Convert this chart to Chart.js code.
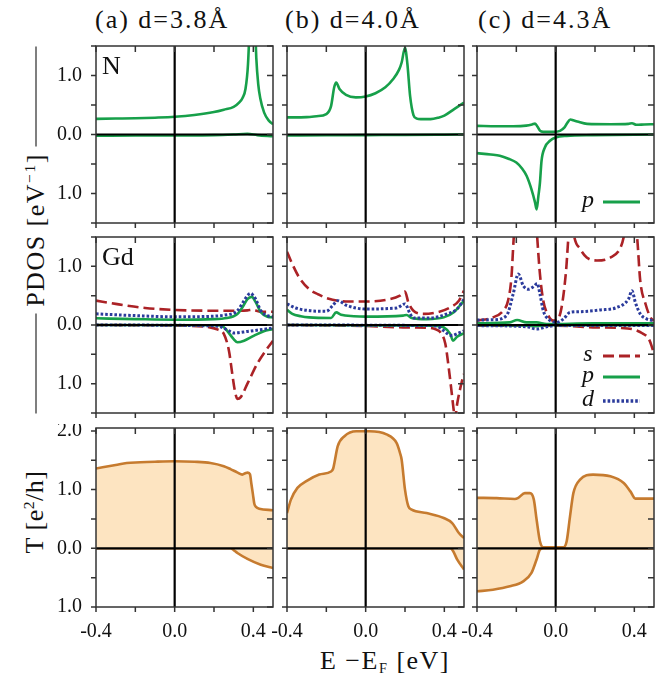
<!DOCTYPE html>
<html>
<head>
<meta charset="utf-8">
<script src="https://cdn.jsdelivr.net/npm/chart.js@4.4.0/dist/chart.umd.min.js"></script>
<style>
  body { margin: 0; background: #fff; }
  #fig { position: relative; width: 663px; height: 681px; font-family: "Liberation Serif", "Times New Roman", "DejaVu Serif", serif; color: #111; overflow: hidden; }
  #fig canvas { position: absolute; }
  .lbl { position: absolute; white-space: nowrap; line-height: 1; }
  .title { top: 7px; font-size: 26px; letter-spacing: 2px; }
  .rot { position: absolute; display: flex; align-items: center; transform: rotate(-90deg); font-size: 26px; line-height: 1; white-space: nowrap; }
  .rot .bar { flex: 1; border-top: 1.5px solid #000; }
  .rot .txt { margin: 0 7px; letter-spacing: 1.5px; }
  sup { font-size: 0.6em; vertical-align: baseline; position: relative; top: -0.55em; }
  sub { font-size: 0.55em; vertical-align: baseline; position: relative; top: 0.25em; }
</style>
</head>
<body>
<div id="fig">
  <div class="lbl title" style="left:95px">(a) d=3.8Å</div>
  <div class="lbl title" style="left:285px">(b) d=4.0Å</div>
  <div class="lbl title" style="left:478px">(c) d=4.3Å</div>
  <div class="rot" style="left:-148px; top:215px; width:367px; height:30px;">
    <div class="bar"></div><div class="txt">PDOS [eV<sup>−1</sup>]</div><div class="bar"></div>
  </div>
  <div class="rot" style="left:-65px; top:497px; width:200px; height:30px; justify-content:center;">
    <div class="txt" style="letter-spacing:0.5px">T [e<sup>2</sup>/h]</div>
  </div>
  <div class="lbl" style="left:385px; top:648px; transform:translateX(-50%); font-size:26px; letter-spacing:1.5px;">E −E<sub>F</sub> [eV]</div>
</div>
<script>
// tick values and labels
const xTicks = [-0.4, -0.2, 0, 0.2, 0.4];
const xTickLabels = ['-0.4', '', '0.0', '', '0.4'];
const pdosTicks = [-1.5, -1, -0.5, 0, 0.5, 1, 1.5];
const pdosTickLabels = ['', '1.0', '', '0.0', '', '1.0', ''];
const tTicks = [-1, -0.5, 0, 0.5, 1, 1.5, 2];
const tTickLabels = ['1.0', '', '0.0', '', '1.0', '', '2.0'];

// N p-orbital PDOS, [E, value] (up > 0, down < 0)
const aN_up = [[-0.4,0.265],[-0.3,0.27],[-0.2,0.275],[-0.1,0.285],[0,0.3],[0.1,0.33],[0.2,0.38],[0.25,0.42],[0.3,0.47],[0.33,0.55],[0.345,0.62],[0.36,0.77],[0.373,1.2],[0.385,2.2],[0.395,3.2],[0.405,2.2],[0.415,1.3],[0.425,0.85],[0.435,0.62],[0.455,0.37],[0.48,0.23],[0.5,0.175]];
const aN_dn = [[-0.4,-0.02],[-0.2,-0.018],[0,-0.015],[0.2,-0.01],[0.3,0.0],[0.37,0.01],[0.42,-0.01],[0.5,-0.03]];
const bN_up = [[-0.4,0.29],[-0.3,0.295],[-0.25,0.31],[-0.2,0.345],[-0.176,0.48],[-0.16,0.8],[-0.15,0.88],[-0.133,0.77],[-0.1,0.67],[-0.05,0.63],[0,0.645],[0.05,0.7],[0.1,0.8],[0.14,0.94],[0.17,1.1],[0.183,1.22],[0.2,1.47],[0.212,1.2],[0.226,0.65],[0.243,0.33],[0.26,0.27],[0.28,0.26],[0.33,0.26],[0.37,0.285],[0.4,0.32],[0.45,0.43],[0.5,0.54]];
const bN_dn = [[-0.4,-0.015],[-0.2,-0.013],[0,-0.01],[0.2,-0.008],[0.4,-0.003],[0.5,0.0]];
const cN_up = [[-0.4,0.147],[-0.3,0.14],[-0.216,0.14],[-0.15,0.15],[-0.12,0.17],[-0.105,0.185],[-0.092,0.13],[-0.08,0.065],[-0.063,0.045],[-0.012,0.045],[0.022,0.062],[0.045,0.12],[0.058,0.19],[0.075,0.255],[0.09,0.24],[0.11,0.22],[0.16,0.18],[0.28,0.175],[0.37,0.18],[0.388,0.19],[0.41,0.165],[0.45,0.17],[0.5,0.175]];
const cN_dn = [[-0.4,-0.316],[-0.33,-0.34],[-0.284,-0.36],[-0.24,-0.41],[-0.2,-0.475],[-0.17,-0.58],[-0.148,-0.7],[-0.123,-0.93],[-0.105,-1.15],[-0.097,-1.27],[-0.088,-1.05],[-0.08,-0.82],[-0.072,-0.45],[-0.055,-0.22],[-0.029,-0.107],[0,-0.05],[0.056,-0.023],[0.19,-0.011],[0.5,0.0]];

// Gd s, p, d PDOS
const aGd_s_up = [[-0.4,0.415],[-0.3,0.36],[-0.244,0.33],[-0.15,0.29],[0,0.256],[0.182,0.244],[0.336,0.244],[0.37,0.25],[0.395,0.26],[0.42,0.24],[0.438,0.227],[0.5,0.227]];
const aGd_s_dn = [[-0.4,0.0],[0,-0.01],[0.18,-0.04],[0.22,-0.08],[0.25,-0.15],[0.276,-0.44],[0.293,-0.835],[0.305,-1.1],[0.319,-1.26],[0.336,-1.23],[0.37,-1.0],[0.42,-0.66],[0.46,-0.45],[0.5,-0.27]];
const aGd_p_up = [[-0.4,0.114],[-0.2,0.1],[0,0.09],[0.2,0.1],[0.267,0.12],[0.3,0.15],[0.32,0.19],[0.344,0.3],[0.37,0.44],[0.392,0.48],[0.412,0.39],[0.438,0.216],[0.472,0.142],[0.5,0.13]];
const aGd_p_dn = [[-0.4,0],[0.2,-0.005],[0.233,-0.01],[0.25,-0.04],[0.267,-0.1],[0.3,-0.24],[0.319,-0.295],[0.353,-0.267],[0.404,-0.18],[0.45,-0.11],[0.5,-0.07]];
const aGd_d_up = [[-0.4,0.19],[-0.2,0.16],[0,0.14],[0.2,0.15],[0.267,0.176],[0.3,0.2],[0.319,0.244],[0.353,0.415],[0.375,0.52],[0.387,0.54],[0.4,0.5],[0.412,0.44],[0.438,0.244],[0.472,0.16],[0.5,0.142]];
const aGd_d_dn = [[-0.4,0],[0.2,-0.015],[0.233,-0.03],[0.276,-0.1],[0.3,-0.136],[0.37,-0.11],[0.5,-0.05]];

const bGd_s_up = [[-0.4,1.25],[-0.38,1.09],[-0.338,0.81],[-0.287,0.61],[-0.24,0.52],[-0.2,0.46],[-0.1,0.4],[0,0.4],[0.106,0.43],[0.174,0.5],[0.2,0.57],[0.217,0.386],[0.243,0.244],[0.294,0.19],[0.362,0.216],[0.43,0.3],[0.474,0.415],[0.5,0.585]];
const bGd_s_dn = [[-0.4,0],[0,-0.017],[0.19,-0.04],[0.33,-0.05],[0.36,-0.08],[0.38,-0.125],[0.405,-0.32],[0.422,-0.72],[0.44,-1.23],[0.448,-1.46],[0.454,-1.6],[0.465,-1.35],[0.49,-0.95],[0.5,-0.835]];
const bGd_p_up = [[-0.4,0.26],[-0.373,0.19],[-0.33,0.15],[-0.287,0.13],[-0.176,0.12],[-0.15,0.216],[-0.125,0.176],[-0.06,0.15],[0,0.142],[0.19,0.16],[0.208,0.17],[0.234,0.12],[0.31,0.1],[0.397,0.13],[0.448,0.216],[0.5,0.415]];
const bGd_p_dn = [[-0.4,0],[0.35,-0.01],[0.397,-0.04],[0.43,-0.15],[0.444,-0.267],[0.465,-0.2],[0.5,-0.14]];
const bGd_d_up = [[-0.4,0.36],[-0.356,0.29],[-0.3,0.25],[-0.2,0.233],[-0.168,0.33],[-0.142,0.415],[-0.1,0.34],[-0.05,0.29],[0,0.273],[0.157,0.29],[0.2,0.36],[0.226,0.19],[0.243,0.12],[0.328,0.12],[0.414,0.19],[0.465,0.273],[0.5,0.44]];
const bGd_d_dn = [[-0.4,0],[0.33,-0.01],[0.362,-0.02],[0.44,-0.18],[0.465,-0.15],[0.5,-0.1]];

const cGd_s_up = [[-0.4,0.074],[-0.319,0.13],[-0.267,0.244],[-0.242,0.415],[-0.225,0.81],[-0.213,1.5],[-0.19,2.4],[-0.15,2.6],[-0.11,2.3],[-0.094,1.5],[-0.08,0.87],[-0.063,0.415],[-0.037,0.16],[-0.012,0.074],[0.005,0.074],[0.03,0.3],[0.053,0.93],[0.065,1.5],[0.08,1.9],[0.095,1.5],[0.124,1.3],[0.158,1.15],[0.21,1.1],[0.278,1.15],[0.33,1.32],[0.346,1.5],[0.38,2.2],[0.414,1.5],[0.43,0.756],[0.457,0.358],[0.482,0.13],[0.5,0.074]];
const cGd_s_dn = [[-0.4,-0.01],[0,-0.01],[0.19,-0.04],[0.33,-0.05],[0.4,-0.08],[0.44,-0.14],[0.474,-0.24],[0.49,-0.38],[0.5,-0.49]];
const cGd_p_up = [[-0.4,0.03],[-0.233,0.045],[-0.196,0.085],[-0.148,0.045],[-0.097,0.045],[-0.046,0.017],[0.19,0.028],[0.5,0.028]];
const cGd_p_dn = [[-0.4,-0.005],[-0.15,-0.01],[-0.1,-0.02],[-0.05,-0.005],[0.5,-0.005]];
const cGd_d_up = [[-0.4,0.085],[-0.319,0.09],[-0.25,0.16],[-0.216,0.53],[-0.19,0.87],[-0.165,0.67],[-0.14,0.61],[-0.11,0.66],[-0.094,0.71],[-0.08,0.53],[-0.063,0.244],[-0.037,0.1],[0.005,0.045],[0.039,0.1],[0.073,0.216],[0.124,0.227],[0.227,0.256],[0.312,0.3],[0.37,0.44],[0.388,0.585],[0.405,0.386],[0.43,0.19],[0.465,0.1],[0.5,0.074]];
const cGd_d_dn = [[-0.4,-0.01],[-0.148,-0.03],[-0.097,-0.07],[-0.046,-0.03],[0,-0.01],[0.5,-0.01]];

// transmission
const aT_up = [[-0.4,1.36],[-0.3,1.42],[-0.244,1.455],[-0.1,1.475],[0,1.483],[0.1,1.475],[0.182,1.455],[0.25,1.4],[0.284,1.35],[0.32,1.29],[0.344,1.256],[0.362,1.284],[0.372,1.29],[0.383,1.26],[0.39,1.1],[0.398,0.92],[0.405,0.76],[0.415,0.7],[0.43,0.676],[0.5,0.648]];
const aT_dn = [[-0.4,0],[0.284,0],[0.3,-0.03],[0.319,-0.08],[0.37,-0.18],[0.438,-0.28],[0.5,-0.335]];
const bT_up = [[-0.4,0.6],[-0.38,0.83],[-0.347,1.03],[-0.304,1.14],[-0.236,1.256],[-0.176,1.31],[-0.165,1.36],[-0.159,1.455],[-0.142,1.74],[-0.108,1.91],[-0.048,1.994],[0.02,1.994],[0.106,1.94],[0.157,1.795],[0.175,1.62],[0.183,1.51],[0.2,1.0],[0.217,0.716],[0.234,0.66],[0.31,0.6],[0.397,0.517],[0.44,0.43],[0.474,0.26],[0.5,0.176]];
const bT_dn = [[-0.4,0],[0.43,0],[0.445,-0.05],[0.465,-0.19],[0.5,-0.36]];
const cT_up = [[-0.4,0.86],[-0.3,0.855],[-0.208,0.84],[-0.19,0.86],[-0.157,0.94],[-0.131,0.94],[-0.111,0.83],[-0.097,0.49],[-0.08,0.12],[-0.063,0.017],[0.039,0.017],[0.056,0.12],[0.073,0.545],[0.09,0.94],[0.124,1.17],[0.19,1.256],[0.278,1.227],[0.346,1.114],[0.38,0.97],[0.405,0.847],[0.5,0.847]];
const cT_dn = [[-0.4,-0.733],[-0.319,-0.705],[-0.233,-0.648],[-0.165,-0.5625],[-0.123,-0.42],[-0.097,-0.19],[-0.08,-0.023],[-0.063,0],[0.5,0]];

// layout
const colX = [96, 287, 477];
const rowY = [46, 237, 428];
const rowH = [177, 176, 179];
const PW = 177;

const styles = {
  s: { borderColor: '#ab2226', borderDash: [11, 5], borderWidth: 2.6, order: 3 },
  p: { borderColor: '#17a04a', borderDash: [], borderWidth: 2.6, order: 2 },
  d: { borderColor: '#2b3b9c', borderDash: [2.6, 2], borderWidth: 3, order: 1 },
  T: { borderColor: '#c67b2f', borderWidth: 2.6, fill: 'origin', backgroundColor: '#fde4c1', order: 1 }
};

const panels = [
  { col: 0, row: 0, sets: [['p', aN_up], ['p', aN_dn]], label: 'N' },
  { col: 1, row: 0, sets: [['p', bN_up], ['p', bN_dn]] },
  { col: 2, row: 0, sets: [['p', cN_up], ['p', cN_dn]], legend: [['p', 156]] },
  { col: 0, row: 1, sets: [['s', aGd_s_up], ['s', aGd_s_dn], ['p', aGd_p_up], ['p', aGd_p_dn], ['d', aGd_d_up], ['d', aGd_d_dn]], label: 'Gd' },
  { col: 1, row: 1, sets: [['s', bGd_s_up], ['s', bGd_s_dn], ['p', bGd_p_up], ['p', bGd_p_dn], ['d', bGd_d_up], ['d', bGd_d_dn]] },
  { col: 2, row: 1, sets: [['s', cGd_s_up], ['s', cGd_s_dn], ['p', cGd_p_up], ['p', cGd_p_dn], ['d', cGd_d_up], ['d', cGd_d_dn]], legend: [['s', 119], ['p', 140], ['d', 164]] },
  { col: 0, row: 2, sets: [['T', aT_up], ['T', aT_dn]] },
  { col: 1, row: 2, sets: [['T', bT_up], ['T', bT_dn]] },
  { col: 2, row: 2, sets: [['T', cT_up], ['T', cT_dn]] }
];

const SERIF = '"Liberation Serif", "Times New Roman", "DejaVu Serif", serif';

const framePlugin = {
  id: 'frame',
  afterDatasetsDraw(chart, args, opts) {
    const { ctx, chartArea: a, scales: { x, y } } = chart;
    ctx.save();
    // zero lines
    const x0 = x.getPixelForValue(0), y0 = y.getPixelForValue(0);
    ctx.strokeStyle = '#000';
    ctx.lineWidth = 2.2;
    ctx.beginPath();
    ctx.moveTo(a.left, y0); ctx.lineTo(a.right, y0);
    ctx.moveTo(x0, a.top); ctx.lineTo(x0, a.bottom);
    ctx.stroke();
    // ticks: inward on top/right, outward on left/bottom, then the box
    ctx.strokeStyle = '#333';
    ctx.lineWidth = 1.5;
    ctx.beginPath();
    xTicks.forEach(v => {
      const px = x.getPixelForValue(v);
      ctx.moveTo(px, a.top); ctx.lineTo(px, a.top + 6);
      ctx.moveTo(px, a.bottom); ctx.lineTo(px, a.bottom + 5);
    });
    y.ticks.forEach(t => {
      const py = y.getPixelForValue(t.value);
      ctx.moveTo(a.right, py); ctx.lineTo(a.right - 6, py);
      ctx.moveTo(a.left, py); ctx.lineTo(a.left - 5, py);
    });
    ctx.stroke();
    ctx.strokeRect(a.left, a.top, a.right - a.left, a.bottom - a.top);
    // panel label
    ctx.fillStyle = '#111';
    if (opts.label) {
      ctx.font = '26px ' + SERIF;
      ctx.textBaseline = 'alphabetic';
      ctx.textAlign = 'left';
      ctx.fillText(opts.label, a.left + 6, a.top + 28);
    }
    // legend
    (opts.legend || []).forEach(([key, dy]) => {
      const st = styles[key];
      const ly = a.top + dy;
      ctx.strokeStyle = st.borderColor;
      ctx.lineWidth = st.borderWidth + 0.4;
      ctx.setLineDash(st.borderDash);
      ctx.beginPath();
      ctx.moveTo(a.right - 51, ly); ctx.lineTo(a.right - 14, ly);
      ctx.stroke();
      ctx.setLineDash([]);
      ctx.font = 'italic 24px ' + SERIF;
      ctx.textAlign = 'center';
      ctx.textBaseline = 'alphabetic';
      ctx.fillText(key, a.right - 66, ly + 5);
    });
    ctx.restore();
  }
};

const fig = document.getElementById('fig');
const tickFont = { family: SERIF, size: 20 };

panels.forEach(p => {
  const showY = p.col === 0, showX = p.row === 2;
  // room on the left for y labels, or for the "-0.4" label of the bottom row
  const padL = showY ? 70 : (showX ? 26 : 8);
  const padB = showX ? 40 : 8;
  const padT = 4, padR = 4;
  const isT = p.row === 2;
  const yTicks = isT ? tTicks : pdosTicks;
  const yLabels = isT ? tTickLabels : pdosTickLabels;

  const cv = document.createElement('canvas');
  cv.width = PW + padL + padR;
  cv.height = rowH[p.row] + padT + padB;
  cv.style.left = (colX[p.col] - padL) + 'px';
  cv.style.top = (rowY[p.row] - padT) + 'px';
  fig.appendChild(cv);

  const datasets = p.sets.map(([key, pts]) => Object.assign({
    data: pts.map(([x, y]) => ({ x, y })),
    pointRadius: 0,
    cubicInterpolationMode: 'monotone',
    fill: false,
    borderCapStyle: 'butt'
  }, styles[key]));

  new Chart(cv, {
    type: 'line',
    data: { datasets },
    options: {
      responsive: false,
      animation: false,
      events: [],
      layout: { autoPadding: false, padding: { top: padT, right: padR, left: showY ? 0 : padL, bottom: showX ? 0 : padB } },
      scales: {
        x: {
          type: 'linear', min: -0.4, max: 0.5, display: showX,
          afterBuildTicks: s => { s.ticks = xTicks.map(v => ({ value: v })); },
          afterFit: s => { if (showX) { s.height = padB; s.paddingLeft = 0; s.paddingRight = 0; } },
          grid: { display: false },
          border: { display: false },
          ticks: { padding: 5, color: '#111', font: tickFont, maxRotation: 0, autoSkip: false,
                   callback: (v, i) => xTickLabels[i] }
        },
        y: {
          type: 'linear', min: yTicks[0], max: isT ? 2.05 : 1.5, display: showY,
          afterBuildTicks: s => { s.ticks = yTicks.map(v => ({ value: v })); },
          afterFit: s => { if (showY) { s.width = padL; s.paddingTop = 0; s.paddingBottom = 0; } },
          grid: { display: false },
          border: { display: false },
          ticks: { padding: 6, color: '#111', font: tickFont, autoSkip: false,
                   callback: (v, i) => yLabels[i] }
        }
      },
      plugins: {
        legend: { display: false },
        tooltip: { enabled: false },
        frame: { label: p.label, legend: p.legend }
      }
    },
    plugins: [framePlugin]
  });
});
</script>
</body>
</html>
